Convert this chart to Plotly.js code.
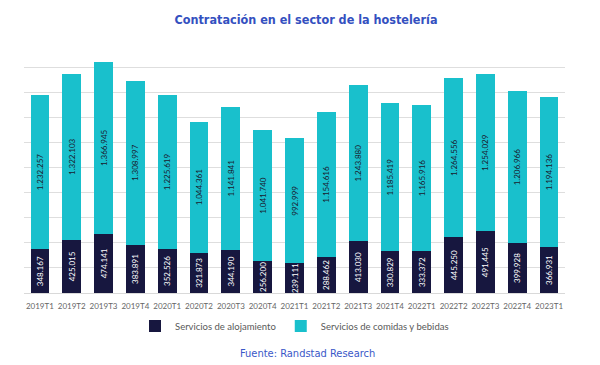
<!DOCTYPE html>
<html><head><meta charset="utf-8">
<script src="https://cdn.plot.ly/plotly-3.0.1.min.js"></script>
<style>html,body{margin:0;padding:0;background:#fff}#chart{width:600px;height:365px}</style>
</head><body><div id="chart"></div>
<script>
const categories = ["2019T1","2019T2","2019T3","2019T4","2020T1","2020T2","2020T3","2020T4","2021T1","2021T2","2021T3","2021T4","2022T1","2022T2","2022T3","2022T4","2023T1"];
const alojamiento = [348167,425015,474141,383891,352526,321873,344190,256200,239111,288462,413030,330829,333372,445250,491445,399928,366931];
const comidas = [1232257,1322103,1366945,1308997,1225619,1044361,1141841,1041740,992999,1154616,1243880,1185419,1165916,1264556,1254029,1206966,1194136];

const traces = [
  {type:'bar', name:'Servicios de alojamiento', x:categories, y:alojamiento,
   marker:{color:'#17173f'}, texttemplate:'%{y:,}', textposition:'inside', insidetextanchor:'middle',
   textangle:-90, constraintext:'none', insidetextfont:{color:'#ffffff', size:8, family:'Lato, sans-serif'}, hoverinfo:'none'},
  {type:'bar', name:'Servicios de comidas y bebidas', x:categories, y:comidas,
   marker:{color:'#19c0cc'}, texttemplate:'%{y:,}', textposition:'inside', insidetextanchor:'middle',
   textangle:-90, constraintext:'none', insidetextfont:{color:'#1a1a2e', size:8, family:'Lato, sans-serif'}, hoverinfo:'none'}
];

const layout = {
  width:600, height:365, barmode:'stack', bargap:0.41,
  separators:',.',
  paper_bgcolor:'#ffffff', plot_bgcolor:'#ffffff',
  margin:{l:24, r:35, t:42, b:72},
  title:{text:'<b>Contratación en el sector de la hostelería</b>', x:0.51, xanchor:'center', y:0.945, yanchor:'middle',
         font:{family:'DejaVu Sans Condensed, DejaVu Sans, sans-serif', size:12.5, color:'#3450c0'}},
  xaxis:{type:'category', showline:true, linecolor:'#d9d9d9', linewidth:1, ticks:'', showgrid:false, tickangle:0,
         ticklabelstandoff:5, tickfont:{family:'Lato, sans-serif', size:8, color:'#666666'}},
  yaxis:{range:[0,2000000], dtick:200000, showticklabels:false, showgrid:true, gridcolor:'#dedede', gridwidth:1, zeroline:false},
  showlegend:true,
  legend:{orientation:'h', x:0.5, xanchor:'center', y:-0.131, yanchor:'middle',
          font:{family:'Lato, sans-serif', size:9.5, color:'#595959'}, itemwidth:30, traceorder:'normal'},
  annotations:[{text:'Fuente: Randstad Research', xref:'paper', yref:'paper', x:(307-24)/541, y:(293-353)/251,
                xanchor:'center', yanchor:'middle', showarrow:false,
                font:{family:'DejaVu Sans Condensed, DejaVu Sans, sans-serif', size:11, color:'#3a58c8'}}]
};
Plotly.newPlot('chart', traces, layout, {staticPlot:true, displayModeBar:false});
</script></body></html>
